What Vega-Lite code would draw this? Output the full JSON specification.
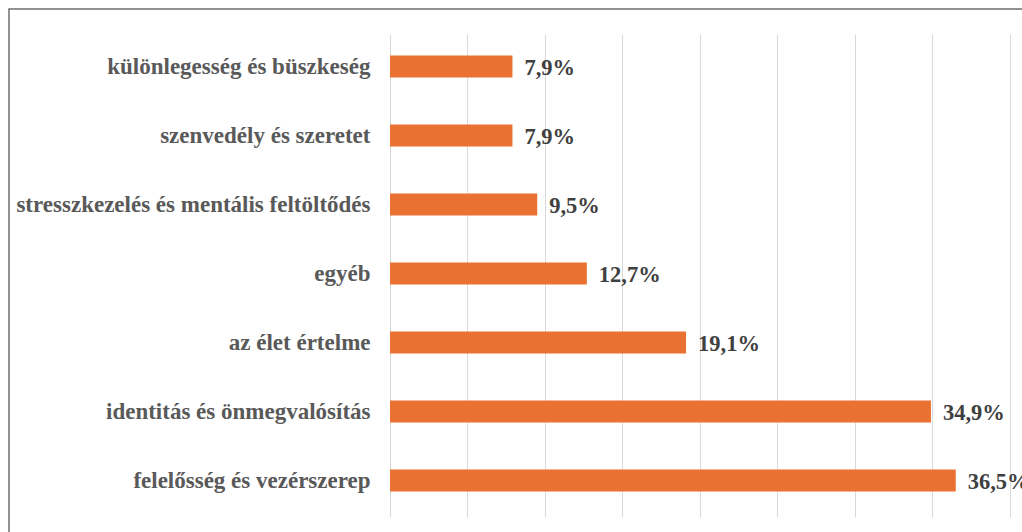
{
  "$schema": "https://vega.github.io/schema/vega-lite/v6.json",
  "width": 1020,
  "height": 531,
  "autosize": {"type": "none"},
  "padding": {"left": 9, "top": 9, "right": 0, "bottom": 0},
  "background": "white",
  "config": {"view": {"stroke": "#6e6e6e", "strokeWidth": 1.5}},
  "data": {
    "values": [
      {"category": "különlegesség és büszkeség", "value": 7.9, "label": "7,9%"},
      {"category": "szenvedély és szeretet", "value": 7.9, "label": "7,9%"},
      {"category": "stresszkezelés és mentális feltöltődés", "value": 9.5, "label": "9,5%"},
      {"category": "egyéb", "value": 12.7, "label": "12,7%"},
      {"category": "az élet értelme", "value": 19.1, "label": "19,1%"},
      {"category": "identitás és önmegvalósítás", "value": 34.9, "label": "34,9%"},
      {"category": "felelősség és vezérszerep", "value": 36.5, "label": "36,5%"}
    ]
  },
  "encoding": {
    "y": {
      "field": "category",
      "type": "nominal",
      "sort": null,
      "scale": {"range": [23, 506], "paddingInner": 0.68, "paddingOuter": 0.34},
      "axis": {
        "title": null,
        "offset": -381,
        "ticks": false,
        "domain": false,
        "grid": false,
        "labelPadding": 20,
        "labelFont": "Liberation Serif",
        "labelFontSize": 23,
        "labelFontWeight": "bold",
        "labelColor": "#595959",
        "labelLimit": 500
      }
    },
    "x": {
      "field": "value",
      "type": "quantitative",
      "scale": {"domain": [-24.58, 41.226], "nice": false, "zero": false},
      "axis": {
        "values": [0, 5, 10, 15, 20, 25, 30, 35, 40],
        "grid": true,
        "gridColor": "#d9d9d9",
        "gridWidth": 1,
        "labels": false,
        "ticks": false,
        "domain": false,
        "title": null
      }
    }
  },
  "layer": [
    {
      "mark": {"type": "bar", "color": "#E97132"},
      "encoding": {"x2": {"datum": 0}}
    },
    {
      "mark": {
        "type": "text",
        "align": "left",
        "baseline": "middle",
        "dx": 12,
        "dy": 1,
        "font": "Liberation Serif",
        "fontSize": 22.5,
        "fontWeight": "bold",
        "color": "#404040"
      },
      "encoding": {"text": {"field": "label"}}
    }
  ]
}
